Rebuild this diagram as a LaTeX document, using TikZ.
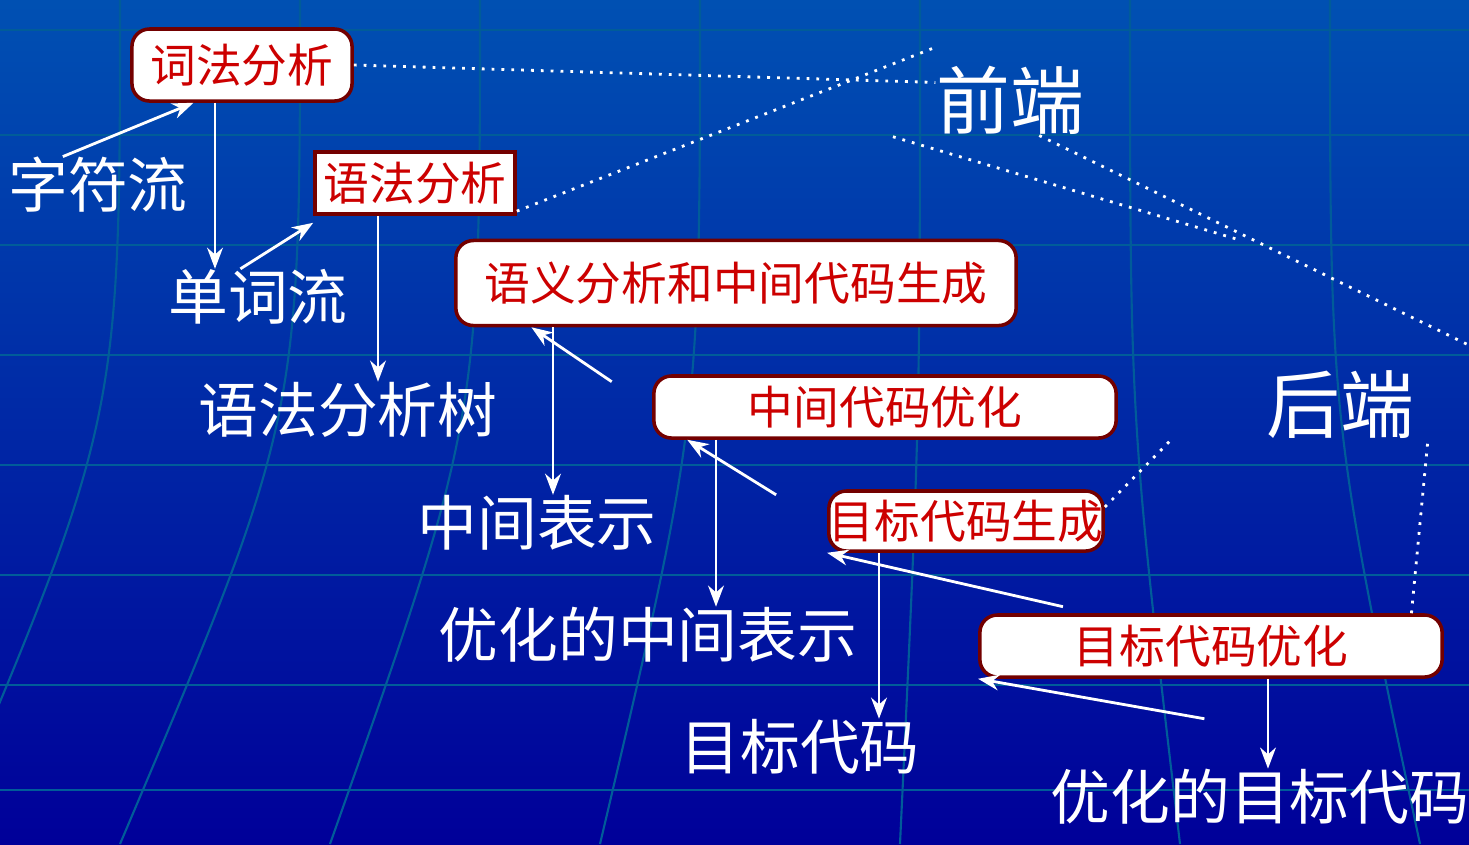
\documentclass[tikz,border=0pt]{standalone}
\usepackage{fontspec}
\setmainfont{Noto Sans CJK SC}
\usetikzlibrary{arrows.meta,positioning}

\tikzset{
  stage/.style={rectangle,rounded corners=5pt,draw=red!45!black,line width=1pt,fill=white,
    text=red!80!black,font=\fontsize{13}{15}\selectfont,inner sep=0pt,minimum height=0.62cm},
  data/.style={text=white,font=\fontsize{17}{19}\selectfont,inner sep=0pt},
  part/.style={text=white,font=\fontsize{21}{23}\selectfont,inner sep=0pt},
  flow/.style={white,thick,-{Stealth[length=6pt]}},
  link/.style={white,thick,dotted}
}

\begin{document}
\begin{tikzpicture}[x=0.01cm,y=-0.01cm]
    % background
    \shade[top color=blue!55!cyan!70!black,bottom color=blue!60!black] (0,0) rectangle (1469,844);
    \useasboundingbox (0,0) rectangle (1469,844);
    \foreach \y in {30,135,245,355,465,575,685,790}
        \draw[blue!40!cyan!60!black,line width=0.6pt] (0,\y) -- (1469,\y);
    \foreach \x/\b in {120/-60,300/120,480/330,700/600,920/900,1130/1180,1330/1420}
        \draw[blue!40!cyan!60!black,line width=0.6pt] (\x,0) .. controls (\x,420) .. (\b,844);

    % stages
    \node[stage,minimum width=2.2cm,minimum height=0.72cm] (lex) at (242,65) {词法分析};
    \node[stage,rounded corners=0pt,minimum width=2.0cm] (syn) at (415,183) {语法分析};
    \node[stage,minimum width=5.6cm,minimum height=0.85cm] (sem) at (736,283) {语义分析和中间代码生成};
    \node[stage,minimum width=4.62cm] (opt) at (885,407) {中间代码优化};
    \node[stage,minimum width=2.74cm,minimum height=0.6cm] (gen) at (966,521) {目标代码生成};
    \node[stage,minimum width=4.62cm] (topt) at (1211,646) {目标代码优化};

    % data
    \node[data] (chars) at (98,185) {字符流};
    \node[data] (words) at (258,297) {单词流};
    \node[data] (tree) at (348,410) {语法分析树};
    \node[data] (ir) at (537,523) {中间表示};
    \node[data] (oir) at (648,635) {优化的中间表示};
    \node[data] (code) at (800,747) {目标代码};
    \node[data] (ocode) at (1260,797) {优化的目标代码};

    % parts
    \node[part] (front) at (1010,100) {前端};
    \node[part] (back) at (1340,405) {后端};

    % flow
    \draw[flow] ([xshift=-10]chars.north) -- ([xshift=18]lex.south west);
    \draw[flow] (lex.south -| 215,0) -- (words.north -| 215,0);
    \draw[flow] ([xshift=-5]words.north) -- ([yshift=-2]syn.south west);
    \draw[flow] (syn.south -| 378,0) -- (tree.north -| 378,0);
    \draw[flow] ([xshift=75]tree.north) -- ([xshift=22]sem.south west);
    \draw[flow] (sem.south -| 553,0) -- (ir.north -| 553,0);
    \draw[flow] ([xshift=68]ir.north) -- ([xshift=10]opt.south west);
    \draw[flow] (opt.south -| 716,0) -- (oir.north -| 716,0);
    \draw[flow] ([xshift=118]oir.north) -- (gen.south west);
    \draw[flow] (gen.south -| 879,0) -- (code.north -| 879,0);
    \draw[flow] ([xshift=115]code.north) -- (topt.south west);
    \draw[flow] (topt.south -| 1268,0) -- (ocode.north -| 1268,0);

    % links
    \draw[link] (lex.east) -- ([yshift=5]front.west);
    \draw[link] ([yshift=-8]syn.east) -- ([yshift=15]front.west);
    \draw[link] ([xshift=142]sem.north) -- ([xshift=-35]front.south);
    \draw[link] ([xshift=183]opt.north) -- ([xshift=8]front.south);
    \draw[link] ([yshift=4]gen.east) -- ([xshift=-48]back.south);
    \draw[link] ([xshift=57]topt.north) -- ([xshift=25]back.south);
\end{tikzpicture}
\end{document}
